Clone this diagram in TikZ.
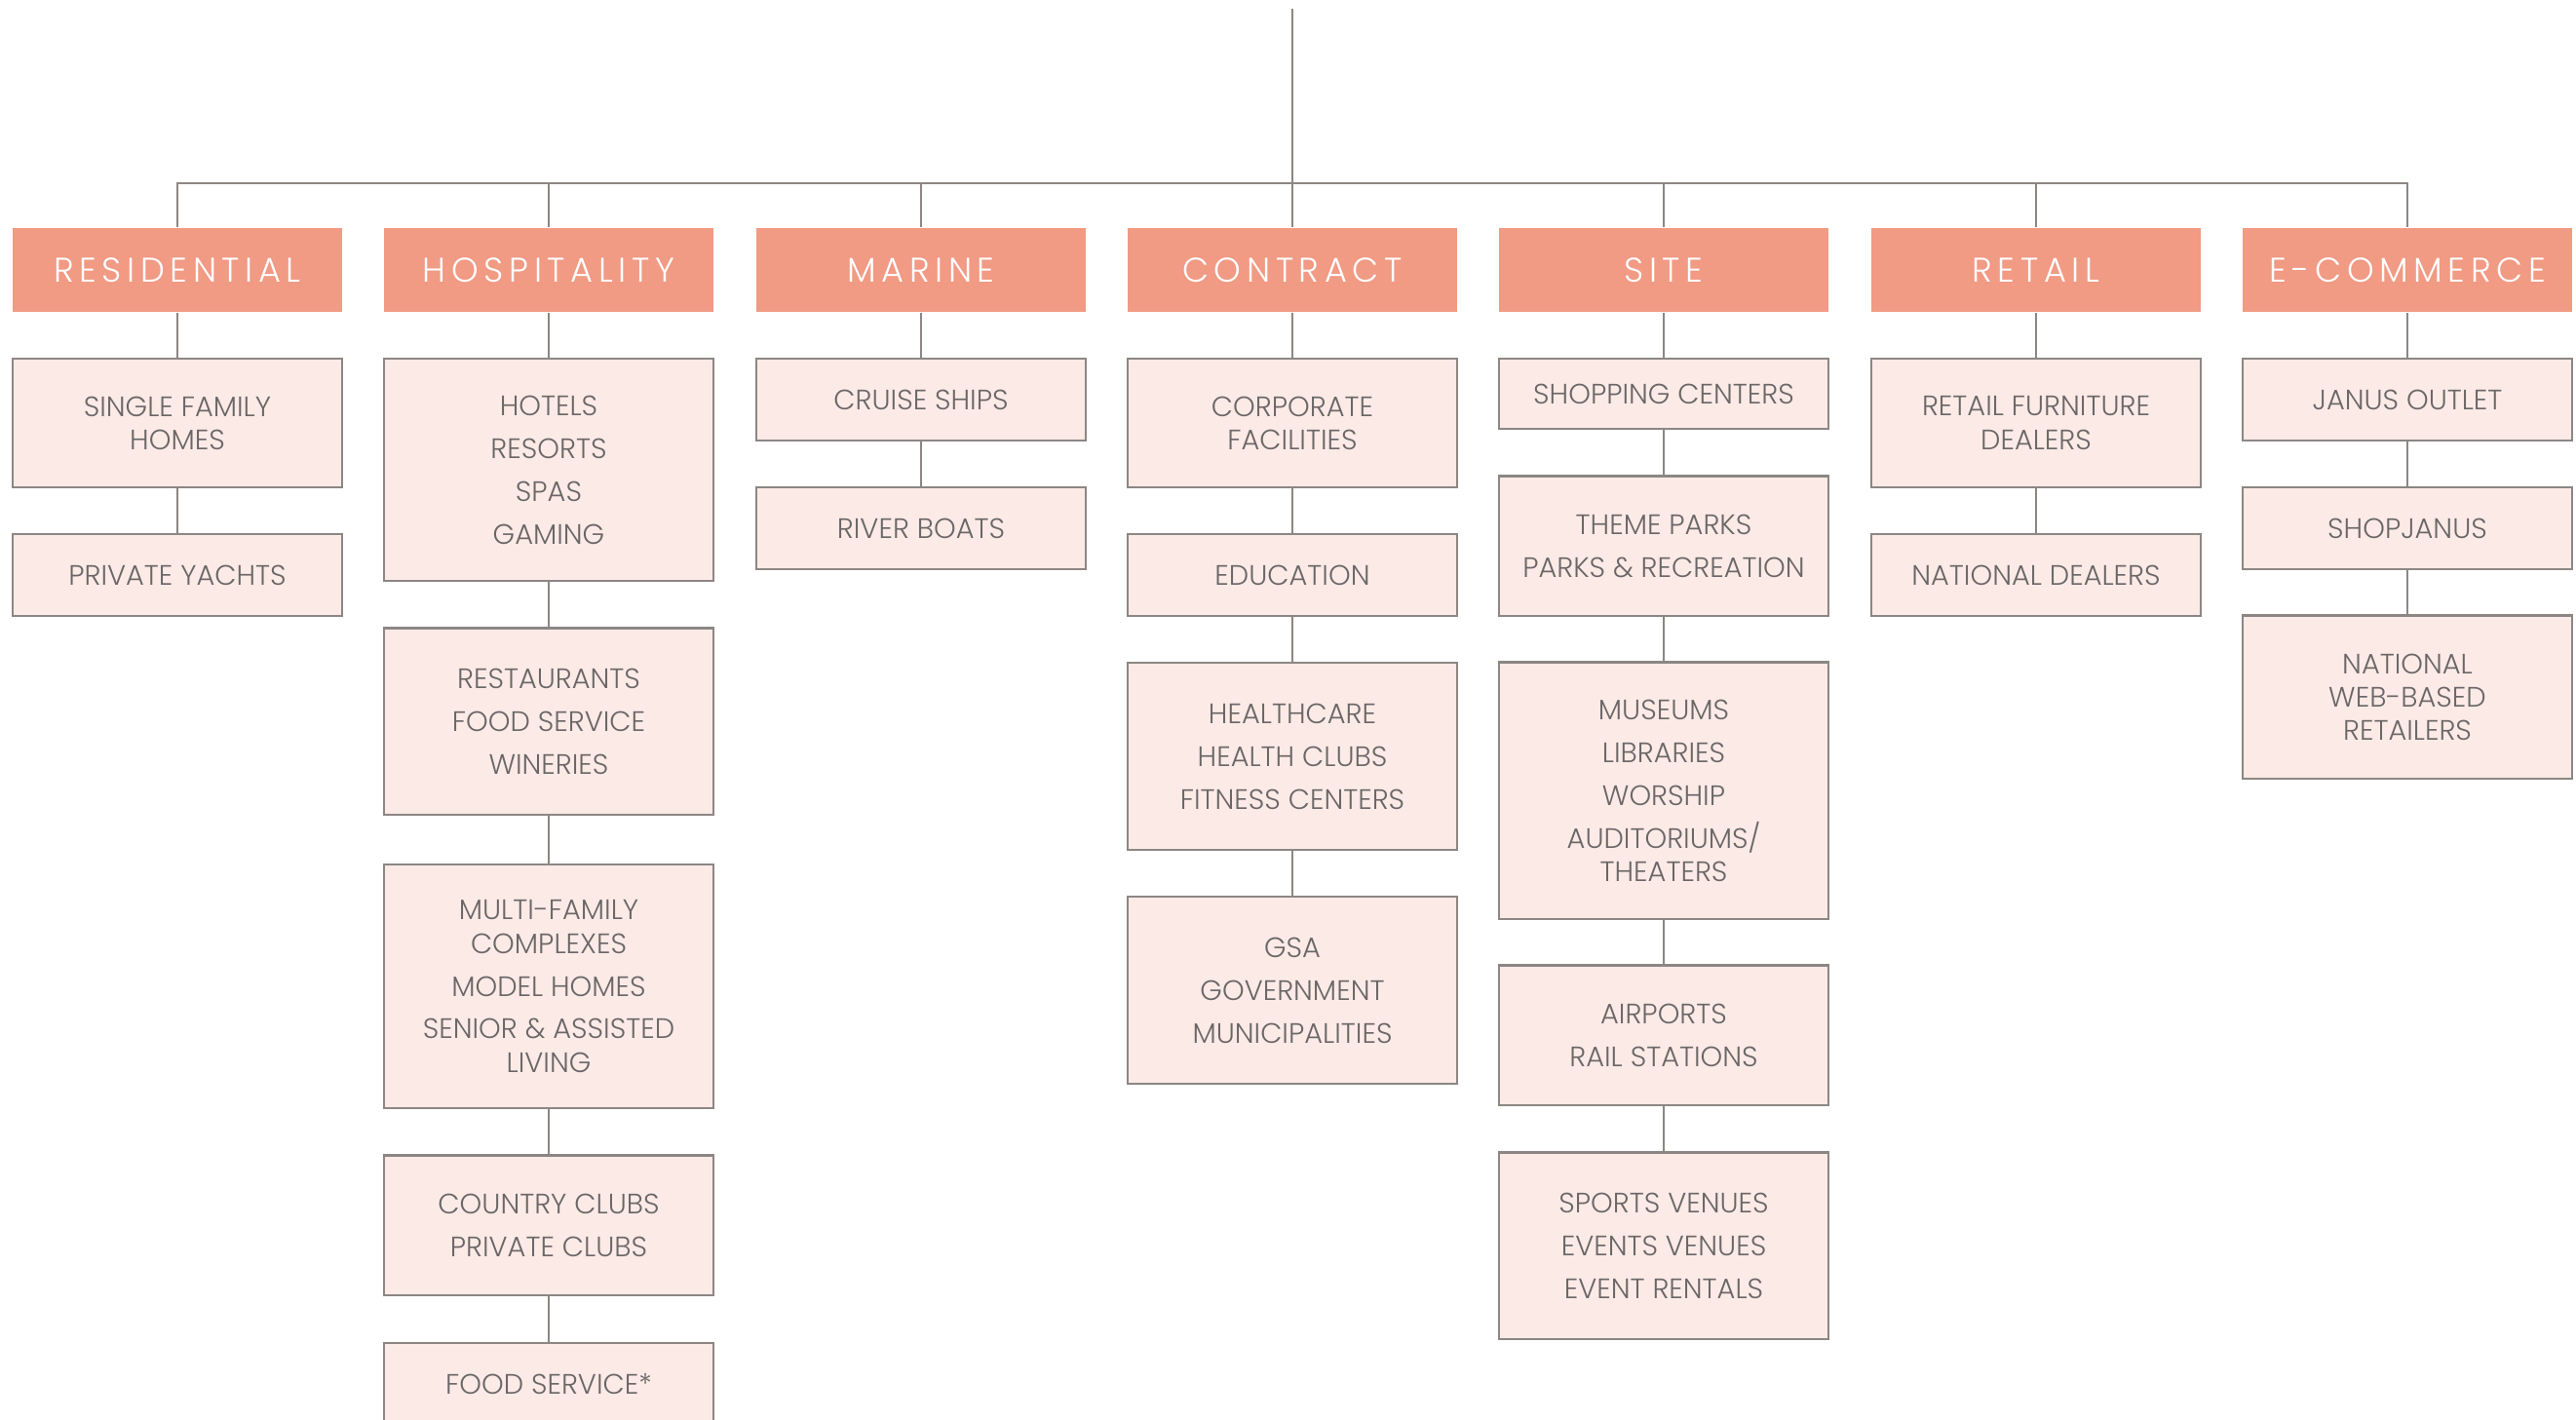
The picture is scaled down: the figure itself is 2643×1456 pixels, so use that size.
\documentclass[tikz,border=0pt]{standalone}
\usepackage{fontspec}
\setmainfont{Poppins}[UprightFont={* Light}]
\newfontfamily\headfont{Poppins}[UprightFont={* Light},LetterSpace=16]
\definecolor{headfill}{HTML}{F19A84}
\definecolor{boxfill}{HTML}{FCEAE7}
\definecolor{linegray}{HTML}{8C8784}
\definecolor{textgray}{HTML}{6A6766}
\newcommand{\nextitem}{\\[2.8pt]}
\begin{document}
\begin{tikzpicture}[x=0.01cm,y=-0.01cm]
						\useasboundingbox (0,0) rectangle (2643,1456);
						\coordinate (top) at (1326,9);
						\coordinate (bus) at (0,188);
						
						\begin{scope}[every node/.style={fill=headfill,text=white,font=\headfont\fontsize{10pt}{12pt}\selectfont,minimum width=3.37cm,minimum height=0.86cm,inner sep=0pt}]
							\node (res) at (182,277) {RESIDENTIAL};
							\node (hosp) at (563,277) {HOSPITALITY};
							\node (mar) at (945,277) {MARINE};
							\node (con) at (1326,277) {CONTRACT};
							\node (site) at (1707,277) {SITE};
							\node (ret) at (2089,277) {RETAIL};
							\node (ecom) at (2470,277) {E-COMMERCE};
						\end{scope}
						
						\begin{scope}[every node/.style={draw=linegray,line width=0.6pt,fill=boxfill,text=textgray,font=\fontsize{8.2pt}{9.7pt}\selectfont,align=center,minimum width=3.37cm,inner sep=0pt}]
							\node[minimum height=1.32cm] (sfhomes) at (182,434) {SINGLE FAMILY\\HOMES};
							\node[minimum height=0.84cm] (yachts) at (182,590) {PRIVATE YACHTS};
							\node[minimum height=2.28cm] (hotels) at (563,482) {HOTELS\nextitem RESORTS\nextitem SPAS\nextitem GAMING};
							\node[minimum height=1.91cm] (rest) at (563,740) {RESTAURANTS\nextitem FOOD SERVICE\nextitem WINERIES};
							\node[minimum height=2.50cm] (multi) at (563,1012) {MULTI-FAMILY\\COMPLEXES\nextitem MODEL HOMES\nextitem SENIOR \& ASSISTED\\LIVING};
							\node[minimum height=1.43cm] (clubs) at (563,1257) {COUNTRY CLUBS\nextitem PRIVATE CLUBS};
							\node[minimum height=0.84cm] (foodsvc) at (563,1420) {FOOD SERVICE*};
							\node[minimum height=0.84cm] (cruise) at (945,410) {CRUISE SHIPS};
							\node[minimum height=0.84cm] (river) at (945,542) {RIVER BOATS};
							\node[minimum height=1.32cm] (corp) at (1326,434) {CORPORATE\\FACILITIES};
							\node[minimum height=0.84cm] (edu) at (1326,590) {EDUCATION};
							\node[minimum height=1.92cm] (health) at (1326,776) {HEALTHCARE\nextitem HEALTH CLUBS\nextitem FITNESS CENTERS};
							\node[minimum height=1.92cm] (gsa) at (1326,1016) {GSA\nextitem GOVERNMENT\nextitem MUNICIPALITIES};
							\node[minimum height=0.72cm] (shop) at (1707,404) {SHOPPING CENTERS};
							\node[minimum height=1.43cm] (parks) at (1707,560) {THEME PARKS\nextitem PARKS \& RECREATION};
							\node[minimum height=2.63cm] (museums) at (1707,811) {MUSEUMS\nextitem LIBRARIES\nextitem WORSHIP\nextitem AUDITORIUMS/\\THEATERS};
							\node[minimum height=1.43cm] (airports) at (1707,1062) {AIRPORTS\nextitem RAIL STATIONS};
							\node[minimum height=1.91cm] (venues) at (1707,1278) {SPORTS VENUES\nextitem EVENTS VENUES\nextitem EVENT RENTALS};
							\node[minimum height=1.32cm] (furn) at (2089,434) {RETAIL FURNITURE\\DEALERS};
							\node[minimum height=0.84cm] (natdeal) at (2089,590) {NATIONAL DEALERS};
							\node[minimum height=0.84cm] (outlet) at (2470,410) {JANUS OUTLET};
							\node[minimum height=0.84cm] (shopj) at (2470,542) {SHOPJANUS};
							\node[minimum height=1.67cm] (webret) at (2470,715) {NATIONAL\\WEB-BASED\\RETAILERS};
						\end{scope}
						
						\begin{scope}[every edge/.style={draw=linegray,line width=0.6pt}]
							\draw [linegray,line width=0.6pt] (res.north) |- (bus -| ecom.north) -- (ecom.north);
							\path (top) edge (con.north);
							\path (hosp.north) edge (hosp.north |- bus);
							\path (mar.north) edge (mar.north |- bus);
							\path (site.north) edge (site.north |- bus);
							\path (ret.north) edge (ret.north |- bus);
							% residential
							\path (res) edge (sfhomes) (sfhomes) edge (yachts);
							% hospitality
							\path (hosp) edge (hotels) (hotels) edge (rest) (rest) edge (multi);
							\path (multi) edge (clubs) (clubs) edge (foodsvc);
							% marine
							\path (mar) edge (cruise) (cruise) edge (river);
							% contract
							\path (con) edge (corp) (corp) edge (edu) (edu) edge (health) (health) edge (gsa);
							% site
							\path (site) edge (shop) (shop) edge (parks) (parks) edge (museums);
							\path (museums) edge (airports) (airports) edge (venues);
							% retail
							\path (ret) edge (furn) (furn) edge (natdeal);
							% e-commerce
							\path (ecom) edge (outlet) (outlet) edge (shopj) (shopj) edge (webret);
						\end{scope}
					\end{tikzpicture}
\end{document}
